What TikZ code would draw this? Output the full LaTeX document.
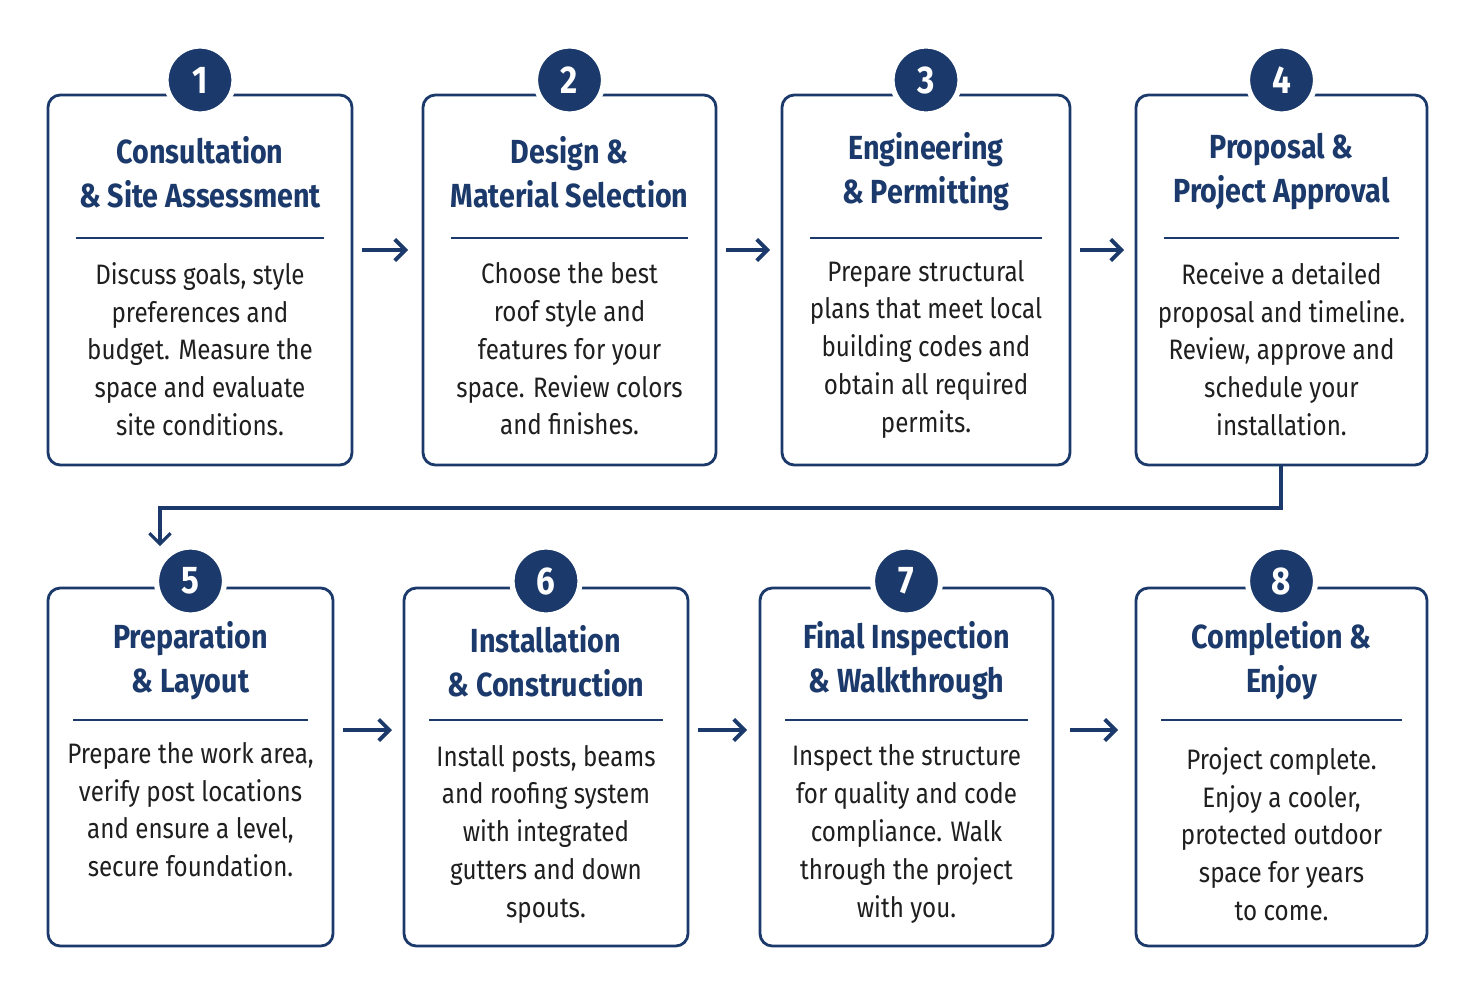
\documentclass[tikz,border=0pt]{standalone}
\usepackage{fontspec}
\setmainfont{Fira Sans}[FakeStretch=0.86]
\usetikzlibrary{positioning,arrows.meta}
\definecolor{navy}{HTML}{1B3A6B}

\begin{document}
\begin{tikzpicture}[
    x=0.02cm, y=-0.02cm,
    every node/.style={text=navy},
    step box/.style={draw=navy, line width=1.6pt, rounded corners=7pt, fill=white},
    num/.style={circle, fill=navy, draw=white, line width=3pt, minimum size=1.36cm, inner sep=0pt, text=white, font=\fontsize{22}{24}\selectfont\bfseries},
    head/.style={align=center, font=\fontsize{19}{25}\selectfont\bfseries},
    body/.style={align=center, text=black!88, font=\fontsize{16}{21.5}\selectfont},
    flow/.style={-{Straight Barb[length=6pt,width=12pt]}, draw=navy, line width=2.2pt}
]
\useasboundingbox (0,0) rectangle (1477,993);

% Top row
\foreach \n/\xa/\xb/\ttl/\txt in {
    1/48/352/{Consultation\\\& Site Assessment}/{Discuss goals, style\\preferences and\\budget. Measure the\\space and evaluate\\site conditions.},
    2/423/716/{Design \&\\Material Selection}/{Choose the best\\roof style and\\features for your\\space. Review colors\\and finishes.},
    3/782/1070/{Engineering\\\& Permitting}/{Prepare structural\\plans that meet local\\building codes and\\obtain all required\\permits.},
    4/1136/1427/{Proposal \&\\Project Approval}/{Receive a detailed\\proposal and timeline.\\Review, approve and\\schedule your\\installation.}} {
    \draw[step box] (\xa,95) rectangle (\xb,465);
    \node[head] at ({(\xa+\xb)/2},172) {\ttl};
    \draw[navy, line width=1.3pt] (\xa+28,238) -- (\xb-28,238);
    \node[body] at ({(\xa+\xb)/2},349) {\txt};
    \node[num] (n\n) at ({(\xa+\xb)/2},80) {\n};
}

% Bottom row
\foreach \n/\xa/\xb/\ttl/\txt in {
    5/48/333/{Preparation\\\& Layout}/{Prepare the work area,\\verify post locations\\and ensure a level,\\secure foundation.\\\strut},
    6/404/688/{Installation\\\& Construction}/{Install posts, beams\\and roofing system\\with integrated\\gutters and down\\spouts.},
    7/760/1053/{Final Inspection\\\& Walkthrough}/{Inspect the structure\\for quality and code\\compliance. Walk\\through the project\\with you.},
    8/1136/1427/{Completion \&\\Enjoy}/{Project complete.\\Enjoy a cooler,\\protected outdoor\\space for years\\to come.}} {
    \draw[step box] (\xa,588) rectangle (\xb,946);
    \node[head] at ({(\xa+\xb)/2},661) {\ttl};
    \draw[navy, line width=1.3pt] (\xa+25,720) -- (\xb-25,720);
    \node[body] at ({(\xa+\xb)/2},834) {\txt};
    \node[num] (n\n) at ({(\xa+\xb)/2},581) {\n};
}

% Arrows between steps
\foreach \xa/\xb/\y in {362/408/250, 726/770/250, 1080/1124/250, 343/392/730, 698/747/730, 1070/1118/730} {
    \draw[flow] (\xa,\y) -- (\xb,\y);
}

% Connector row 1 -> row 2
\coordinate (turn) at (160,508);
\draw[flow, line width=1.8pt] (1281,465) |- (turn) -- (160,546);
\end{tikzpicture}
\end{document}
